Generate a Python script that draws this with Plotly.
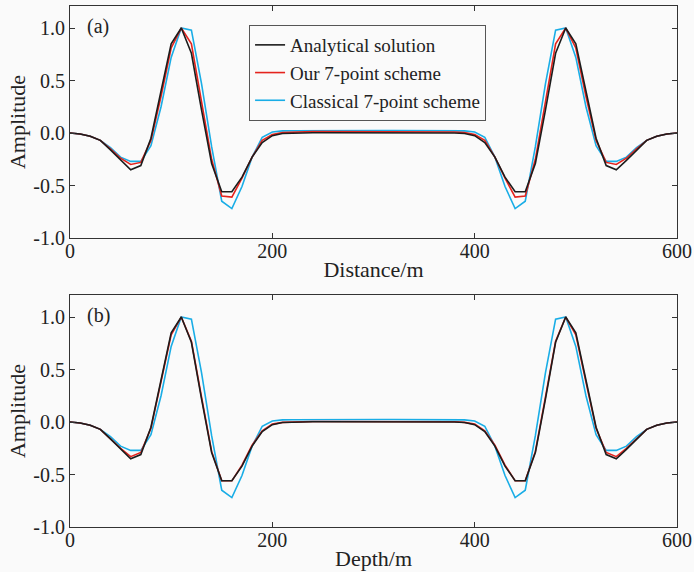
import plotly.graph_objects as go
from plotly.subplots import make_subplots

distance = list(range(0, 601, 10))

analytical_a = [0.00, -0.01, -0.03, -0.07, -0.16, -0.26, -0.35, -0.31, -0.05, 0.40,
                0.85, 1.00, 0.76, 0.22, -0.29, -0.56, -0.56, -0.42, -0.23, -0.09,
                -0.025, -0.005, 0.000, 0.002, 0.003, 0.003, 0.003, 0.003, 0.003, 0.003,
                0.003,
                0.003, 0.003, 0.003, 0.003, 0.003, 0.003, 0.002, 0.000, -0.005, -0.025,
                -0.09, -0.23, -0.42, -0.56, -0.56, -0.29, 0.22, 0.76, 1.00, 0.85,
                0.40, -0.05, -0.31, -0.35, -0.26, -0.16, -0.07, -0.03, -0.01, 0.00]

ours_a = [0.00, -0.01, -0.03, -0.07, -0.15, -0.24, -0.30, -0.28, -0.07, 0.35,
          0.81, 1.00, 0.85, 0.30, -0.25, -0.60, -0.61, -0.43, -0.23, -0.07,
          -0.015, 0.005, 0.010, 0.012, 0.013, 0.013, 0.013, 0.013, 0.013, 0.013,
          0.013,
          0.013, 0.013, 0.013, 0.013, 0.013, 0.013, 0.012, 0.010, 0.005, -0.015,
          -0.07, -0.23, -0.43, -0.61, -0.60, -0.25, 0.30, 0.85, 1.00, 0.81,
          0.35, -0.07, -0.28, -0.30, -0.24, -0.15, -0.07, -0.03, -0.01, 0.00]

classical_a = [0.00, -0.01, -0.03, -0.07, -0.14, -0.23, -0.27, -0.27, -0.12, 0.25,
               0.72, 1.00, 0.98, 0.47, -0.13, -0.65, -0.72, -0.51, -0.23, -0.04,
               0.010, 0.020, 0.022, 0.023, 0.024, 0.024, 0.024, 0.024, 0.024, 0.024,
               0.024,
               0.024, 0.024, 0.024, 0.024, 0.024, 0.024, 0.023, 0.022, 0.020, 0.010,
               -0.04, -0.23, -0.51, -0.72, -0.65, -0.13, 0.47, 0.98, 1.00, 0.72,
               0.25, -0.12, -0.27, -0.27, -0.23, -0.14, -0.07, -0.03, -0.01, 0.00]

depth = list(range(0, 601, 10))

analytical_b = [0.00, -0.01, -0.03, -0.07, -0.16, -0.26, -0.35, -0.31, -0.05, 0.40,
                0.85, 1.00, 0.76, 0.22, -0.29, -0.56, -0.56, -0.42, -0.23, -0.09,
                -0.025, -0.005, 0.000, 0.002, 0.003, 0.003, 0.003, 0.003, 0.003, 0.003,
                0.003,
                0.003, 0.003, 0.003, 0.003, 0.003, 0.003, 0.002, 0.000, -0.005, -0.025,
                -0.09, -0.23, -0.42, -0.56, -0.56, -0.29, 0.22, 0.76, 1.00, 0.85,
                0.40, -0.05, -0.31, -0.35, -0.26, -0.16, -0.07, -0.03, -0.01, 0.00]

ours_b = [0.00, -0.01, -0.03, -0.07, -0.16, -0.25, -0.33, -0.29, -0.06, 0.38,
          0.83, 1.00, 0.77, 0.24, -0.28, -0.56, -0.56, -0.41, -0.22, -0.085,
          -0.02, -0.003, 0.002, 0.004, 0.005, 0.005, 0.005, 0.005, 0.005, 0.005,
          0.005,
          0.005, 0.005, 0.005, 0.005, 0.005, 0.005, 0.004, 0.002, -0.003, -0.02,
          -0.085, -0.22, -0.41, -0.56, -0.56, -0.28, 0.24, 0.77, 1.00, 0.83,
          0.38, -0.06, -0.29, -0.33, -0.25, -0.16, -0.07, -0.03, -0.01, 0.00]

classical_b = [0.00, -0.01, -0.03, -0.07, -0.14, -0.23, -0.27, -0.27, -0.12, 0.25,
               0.72, 1.00, 0.98, 0.47, -0.13, -0.65, -0.72, -0.51, -0.23, -0.04,
               0.010, 0.020, 0.022, 0.023, 0.024, 0.024, 0.024, 0.024, 0.024, 0.024,
               0.024,
               0.024, 0.024, 0.024, 0.024, 0.024, 0.024, 0.023, 0.022, 0.020, 0.010,
               -0.04, -0.23, -0.51, -0.72, -0.65, -0.13, 0.47, 0.98, 1.00, 0.72,
               0.25, -0.12, -0.27, -0.27, -0.23, -0.14, -0.07, -0.03, -0.01, 0.00]

series_names = ["Analytical solution", "Our 7-point scheme", "Classical 7-point scheme"]
x_ticks = [0, 200, 400, 600]
x_tick_labels = ["0", "200", "400", "600"]
y_ticks = [-1.0, -0.5, 0.0, 0.5, 1.0]
y_tick_labels = ["-1.0", "-0.5", "0.0", "0.5", "1.0"]

colors = ["#1c1c1c", "#e4231d", "#19ade6"]
FONT = "Liberation Serif"
FS = 20
FT = 22
TXT = "#222222"

fig = make_subplots(rows=2, cols=1, vertical_spacing=0.11)

panel_a = [analytical_a, ours_a, classical_a]
panel_b = [analytical_b, ours_b, classical_b]
order = [2, 1, 0]
for i in order:
    fig.add_trace(go.Scatter(x=distance, y=panel_a[i], mode="lines", name=series_names[i],
                             line=dict(color=colors[i], width=1.6), showlegend=False),
                  row=1, col=1)
for i in order:
    fig.add_trace(go.Scatter(x=depth, y=panel_b[i], mode="lines", name=series_names[i],
                             line=dict(color=colors[i], width=1.6), showlegend=False),
                  row=2, col=1)
for i in range(3):
    fig.add_trace(go.Scatter(x=[None], y=[None], mode="lines", name=series_names[i],
                             line=dict(color=colors[i], width=1.6), showlegend=True),
                  row=1, col=1)

axis_common = dict(showline=True, linecolor="#333333", linewidth=1.2, mirror="ticks",
                   ticks="inside", ticklen=5, tickcolor="#333333", showgrid=False,
                   zeroline=False, automargin=False,
                   tickfont=dict(family=FONT, size=FS, color=TXT))

for r, title in [(1, "Distance/m"), (2, "Depth/m")]:
    fig.update_xaxes(range=[0, 600], tickvals=x_ticks, ticktext=x_tick_labels,
                     ticklabelstandoff=-5,
                     title=dict(text=title, font=dict(family=FONT, size=FT, color=TXT),
                                standoff=0),
                     row=r, col=1, **axis_common)
    fig.update_yaxes(range=[-1.0, 1.21], tickvals=y_ticks, ticktext=y_tick_labels,
                     title=dict(text="Amplitude", font=dict(family=FONT, size=FT, color=TXT),
                                standoff=1),
                     row=r, col=1, **axis_common)

fig.update_layout(
    width=694, height=572,
    margin=dict(l=70, r=17, t=6, b=45, autoexpand=False),
    paper_bgcolor="#fafafa", plot_bgcolor="#fafafa",
    xaxis=dict(domain=[0, 1]), xaxis2=dict(domain=[0, 1]),
    yaxis=dict(domain=[0.5547, 1]), yaxis2=dict(domain=[0, 0.4453]),
    legend=dict(x=0.295, y=0.9635, xanchor="left", yanchor="top",
                bgcolor="#fafafa", bordercolor="#555555", borderwidth=1,
                font=dict(family=FONT, size=19, color=TXT),
                tracegroupgap=0, itemwidth=30),
    annotations=[
        dict(text="(a)", x=0.025, y=0.96, xref="paper", yref="paper", showarrow=False,
             xanchor="left", yanchor="middle", font=dict(family=FONT, size=FS, color=TXT)),
        dict(text="(b)", x=0.025, y=0.4053, xref="paper", yref="paper", showarrow=False,
             xanchor="left", yanchor="middle", font=dict(family=FONT, size=FS, color=TXT)),
    ],
)

fig.write_html("out.html", post_script="document.body.style.margin='0';",
               config={"displayModeBar": False})
